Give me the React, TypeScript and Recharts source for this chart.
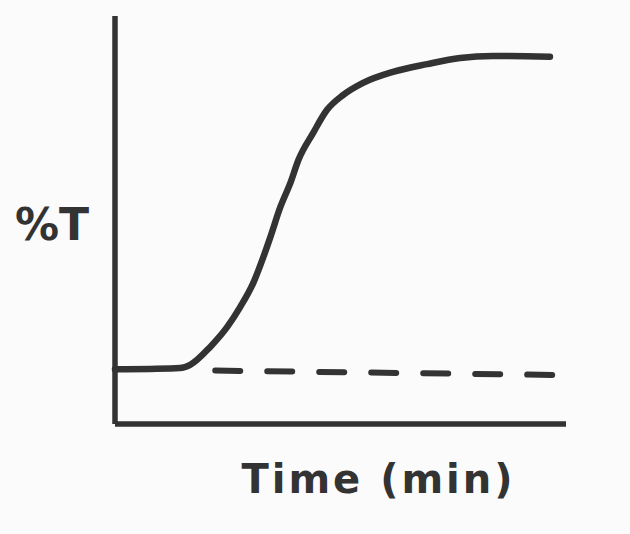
import { ComposedChart, Line, XAxis, YAxis } from "recharts";

// time axis in minutes, %T
const timeMin = [0, 3.5, 6.5, 7.5, 9.5, 11.2, 12.5, 13.8, 14.8, 15.5, 16.5, 17.5, 18.3, 19.76, 21.16, 22.75, 24.75, 27.74, 31.14, 34.43, 37.72, 43.4];
const percentT = [13.4, 13.5, 13.7, 14.5, 18.9, 23.8, 28.7, 34.6, 40.9, 45.8, 53.2, 59.1, 64.7, 71.3, 77.0, 80.6, 83.6, 86.3, 88.2, 89.7, 90.2, 90.0];

// dashed baseline
const baseTime = [10, 44.5];
const basePercentT = [13.1, 12.0];

const curve = timeMin.map((t, i) => ({ t, pt: percentT[i] }));
const baseline = baseTime.map((t, i) => ({ t, pt: basePercentT[i] }));

const ink = "#333333";
const font = "'DejaVu Sans', sans-serif";

export default function App() {
  return (
    <div style={{ position: "absolute", left: 0, top: 0, width: 630, height: 534, background: "#fbfbfb" }}>
      <ComposedChart width={630} height={534} data={curve} margin={{ top: 16, right: 64, bottom: 109, left: 114 }}>
        <XAxis
          type="number"
          dataKey="t"
          domain={[0, 45]}
          height={1}
          tick={false}
          tickLine={false}
          axisLine={{ stroke: ink, strokeWidth: 5.5 }}
          label={{
            value: "Time (min)",
            position: "bottom",
            offset: 40,
            dx: 38,
            fill: ink,
            fontSize: 40,
            fontWeight: "bold",
            fontFamily: font,
            letterSpacing: 3,
          }}
        />
        <YAxis
          type="number"
          dataKey="pt"
          domain={[0, 100]}
          width={1}
          tick={false}
          tickLine={false}
          axisLine={{ stroke: ink, strokeWidth: 5.5 }}
          label={{
            value: "%T",
            position: "left",
            offset: 25,
            dy: 4,
            fill: ink,
            fontSize: 44,
            fontWeight: "bold",
            fontFamily: font,
          }}
        />
        <Line
          data={curve}
          type="monotone"
          dataKey="pt"
          stroke={ink}
          strokeWidth={6.5}
          strokeLinecap="round"
          dot={false}
          isAnimationActive={false}
        />
        <Line
          data={baseline}
          type="linear"
          dataKey="pt"
          stroke={ink}
          strokeWidth={6}
          strokeDasharray="25 27"
          strokeLinecap="round"
          dot={false}
          isAnimationActive={false}
        />
      </ComposedChart>
    </div>
  );
}
